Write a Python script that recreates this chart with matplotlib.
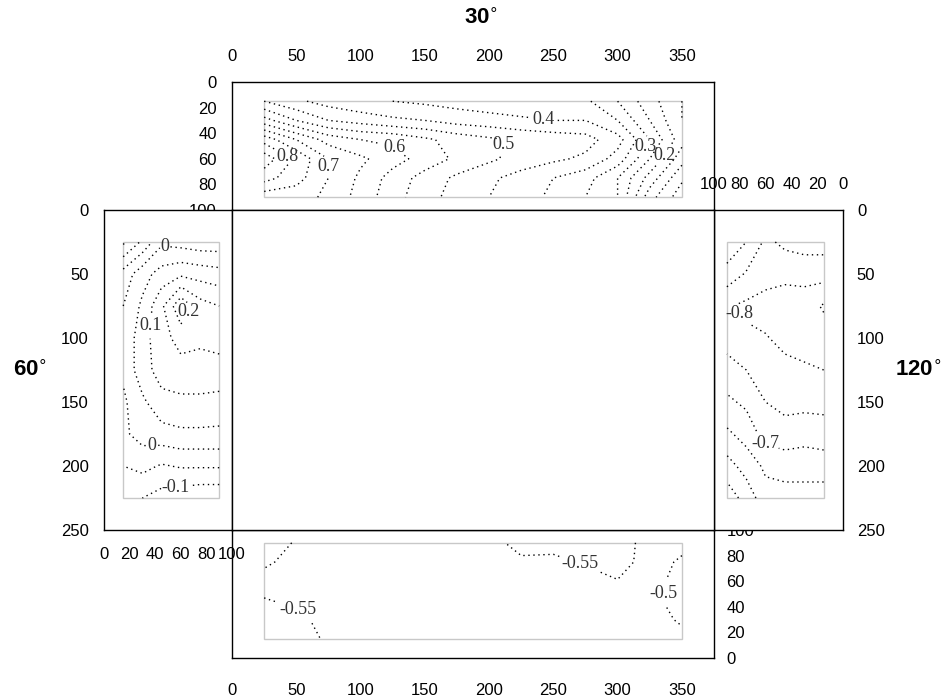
import numpy as np
import matplotlib
matplotlib.use('Agg')
import matplotlib.pyplot as plt
from matplotlib.patches import Rectangle

# ---- 数据 ----
# 上 (30°)
top_x = [25, 50, 75, 100, 125, 150, 175, 200, 225, 250, 275, 300, 325, 350]
top_y = [15, 30, 45, 60, 75, 90]
top_z = [
    [0.50, 0.46, 0.43, 0.41, 0.40, 0.39, 0.38, 0.37, 0.36, 0.36, 0.36, 0.30, 0.22, 0.15],
    [0.62, 0.55, 0.50, 0.48, 0.46, 0.45, 0.43, 0.42, 0.41, 0.40, 0.40, 0.35, 0.25, 0.15],
    [0.78, 0.70, 0.63, 0.60, 0.59, 0.56, 0.53, 0.51, 0.49, 0.48, 0.47, 0.42, 0.30, 0.17],
    [0.88, 0.79, 0.70, 0.66, 0.62, 0.58, 0.54, 0.51, 0.48, 0.46, 0.44, 0.38, 0.25, 0.12],
    [0.82, 0.77, 0.70, 0.64, 0.58, 0.53, 0.49, 0.46, 0.43, 0.40, 0.37, 0.30, 0.18, 0.06],
    [0.72, 0.72, 0.69, 0.63, 0.57, 0.52, 0.48, 0.45, 0.42, 0.39, 0.35, 0.30, 0.12, 0.02],
]
top_levels = [0.05, 0.1, 0.15, 0.2, 0.25, 0.3, 0.35, 0.4, 0.45, 0.5, 0.55, 0.6, 0.65, 0.7, 0.75, 0.8, 0.85]
top_labels = [0.2, 0.3, 0.4, 0.5, 0.6, 0.7, 0.8]
top_label_pos = [(42, 60), (64, 66), (128, 49), (211, 49), (243, 26), (325, 52), (341, 60)]

# 左 (60°)
left_x = [15, 30, 45, 60, 75, 90]
left_y = [25, 50, 75, 100, 125, 150, 175, 200, 225]
left_z = [
    [-0.16, -0.09, -0.01, -0.02, -0.03, -0.03],
    [-0.03, 0.03, 0.07, 0.09, 0.08, 0.07],
    [0.00, 0.06, 0.14, 0.24, 0.17, 0.15],
    [0.01, 0.08, 0.13, 0.17, 0.16, 0.16],
    [0.01, 0.08, 0.12, 0.13, 0.13, 0.14],
    [-0.01, 0.04, 0.085, 0.09, 0.09, 0.08],
    [-0.01, 0.02, 0.03, 0.04, 0.04, 0.04],
    [-0.05, -0.035, -0.055, -0.045, -0.045, -0.045],
    [-0.09, -0.10, -0.12, -0.13, -0.14, -0.14],
]
left_levels = [-0.15, -0.1, -0.05, 0, 0.05, 0.1, 0.15, 0.2]
left_labels = [-0.1, 0, 0.1, 0.2]
left_label_pos = [(47, 34), (65, 79), (31, 90), (37, 182), (56, 218)]

# 右 (120°)
right_x = [15, 30, 45, 60, 75, 90]
right_y = [25, 50, 75, 100, 125, 150, 175, 200, 225]
right_z = [
    [-0.73, -0.73, -0.74, -0.76, -0.70, -0.66],
    [-0.78, -0.78, -0.78, -0.77, -0.755, -0.72],
    [-0.855, -0.83, -0.84, -0.83, -0.81, -0.795],
    [-0.83, -0.83, -0.82, -0.795, -0.79, -0.77],
    [-0.80, -0.79, -0.78, -0.77, -0.75, -0.73],
    [-0.77, -0.765, -0.765, -0.75, -0.71, -0.69],
    [-0.72, -0.72, -0.73, -0.72, -0.67, -0.64],
    [-0.68, -0.67, -0.67, -0.66, -0.62, -0.58],
    [-0.62, -0.63, -0.63, -0.63, -0.57, -0.52],
]
right_levels = [-0.85, -0.8, -0.75, -0.7, -0.65, -0.6, -0.55]
right_labels = [-0.8, -0.7]
right_label_pos = [(79, 79), (61, 183)]

# 下
bot_x = [25, 50, 75, 100, 125, 150, 175, 200, 225, 250, 275, 300, 325, 350]
bot_y = [15, 30, 45, 60, 75, 90]
bot_z = [
    [-0.595, -0.58, -0.54, -0.53, -0.53, -0.53, -0.53, -0.53, -0.53, -0.53, -0.53, -0.53, -0.53, -0.52],
    [-0.58, -0.565, -0.53, -0.53, -0.53, -0.53, -0.53, -0.53, -0.53, -0.53, -0.53, -0.53, -0.53, -0.49],
    [-0.553, -0.54, -0.53, -0.53, -0.53, -0.53, -0.53, -0.53, -0.53, -0.53, -0.53, -0.53, -0.52, -0.47],
    [-0.53, -0.53, -0.53, -0.53, -0.53, -0.53, -0.53, -0.53, -0.53, -0.53, -0.53, -0.548, -0.52, -0.48],
    [-0.56, -0.53, -0.53, -0.53, -0.53, -0.53, -0.53, -0.53, -0.54, -0.54, -0.555, -0.57, -0.53, -0.49],
    [-0.58, -0.545, -0.53, -0.53, -0.53, -0.53, -0.53, -0.53, -0.57, -0.565, -0.57, -0.575, -0.53, -0.52],
]
bot_levels = [-0.6, -0.55, -0.5]
bot_labels = [-0.55, -0.5]
bot_label_pos = [(271, 75), (52, 39), (337, 50)]

W, H = 946, 698
LS = [(0, (1, 2.6))]


def fig_rect(x0, y0, x1, y1):
    return [x0 / W, 1 - y1 / H, (x1 - x0) / W, (y1 - y0) / H]


def fmt(v):
    return '%g' % (round(v, 3) + 0.0)


def draw_contour(ax, xs, ys, zs, levels, labels, pos):
    z = np.array(zs)
    lab = [round(v, 3) for v in labels]
    rest = [v for v in levels if round(v, 3) not in lab]
    ax.contour(xs, ys, z, levels=rest, colors='k', linewidths=1.0, linestyles=LS)
    cs = ax.contour(xs, ys, z, levels=labels, colors='k', linewidths=1.0, linestyles=LS)
    texts = ax.clabel(cs, manual=pos, inline=True, inline_spacing=2,
                      fmt=fmt, fontsize=13, colors='#333333')
    for t in texts:
        t.set_fontfamily('Liberation Serif')
        t.set_rotation(0)
    ax.add_patch(Rectangle((xs[0], ys[0]), xs[-1] - xs[0], ys[-1] - ys[0],
                           fill=False, ec='#c8c8c8', lw=1.0, zorder=1))


def style(ax):
    for sp in ax.spines.values():
        sp.set_linewidth(1.0)
    for lab in ax.get_xticklabels() + ax.get_yticklabels():
        lab.set_fontfamily('Liberation Sans')
        lab.set_fontsize(12)


fig = plt.figure(figsize=(W / 100, H / 100), dpi=100)

# 上
ax_t = fig.add_axes(fig_rect(232, 82, 714, 210))
draw_contour(ax_t, top_x, top_y, top_z, top_levels, top_labels, top_label_pos)
ax_t.set_xlim(0, 375)
ax_t.set_ylim(100, 0)
ax_t.set_xticks(range(0, 351, 50))
ax_t.set_yticks(range(0, 101, 20))
ax_t.xaxis.tick_top()
ax_t.tick_params(axis='x', length=0, pad=13)
ax_t.tick_params(axis='y', length=0, pad=11)
style(ax_t)

# 下
ax_b = fig.add_axes(fig_rect(232, 530, 714, 658))
draw_contour(ax_b, bot_x, bot_y, bot_z, bot_levels, bot_labels, bot_label_pos)
ax_b.set_xlim(0, 375)
ax_b.set_ylim(0, 100)
ax_b.set_xticks(range(0, 351, 50))
ax_b.set_yticks(range(0, 101, 20))
ax_b.yaxis.tick_right()
ax_b.tick_params(axis='x', length=0, pad=18)
ax_b.tick_params(axis='y', length=0, pad=9)
style(ax_b)

# 左
ax_l = fig.add_axes(fig_rect(104, 210, 232, 530))
draw_contour(ax_l, left_x, left_y, left_z, left_levels, left_labels, left_label_pos)
ax_l.set_xlim(0, 100)
ax_l.set_ylim(250, 0)
ax_l.set_xticks(range(0, 101, 20))
ax_l.set_yticks(range(0, 251, 50))
ax_l.tick_params(axis='x', length=0, pad=12)
ax_l.tick_params(axis='y', length=0, pad=11)
style(ax_l)

# 右
ax_r = fig.add_axes(fig_rect(714, 210, 843, 530))
draw_contour(ax_r, right_x, right_y, right_z, right_levels, right_labels, right_label_pos)
ax_r.set_xlim(100, 0)
ax_r.set_ylim(250, 0)
ax_r.set_xticks(range(0, 101, 20))
ax_r.set_yticks(range(0, 251, 50))
ax_r.xaxis.tick_top()
ax_r.yaxis.tick_right()
ax_r.tick_params(axis='x', length=0, pad=13)
ax_r.tick_params(axis='y', length=0, pad=10)
style(ax_r)

# 中
ax_c = fig.add_axes(fig_rect(232, 210, 714, 530))
ax_c.set_xticks([])
ax_c.set_yticks([])
style(ax_c)

title_kw = dict(fontfamily='Liberation Sans', fontweight='bold', fontsize=16,
                ha='center', va='center')
fig.text(481 / W, 1 - 18 / H, r'30$^{\circ}$', **title_kw)
fig.text(30 / W, 1 - 370 / H, r'60$^{\circ}$', **title_kw)
fig.text(918 / W, 1 - 370 / H, r'120$^{\circ}$', **title_kw)

fig.savefig('out.png', dpi=100)
